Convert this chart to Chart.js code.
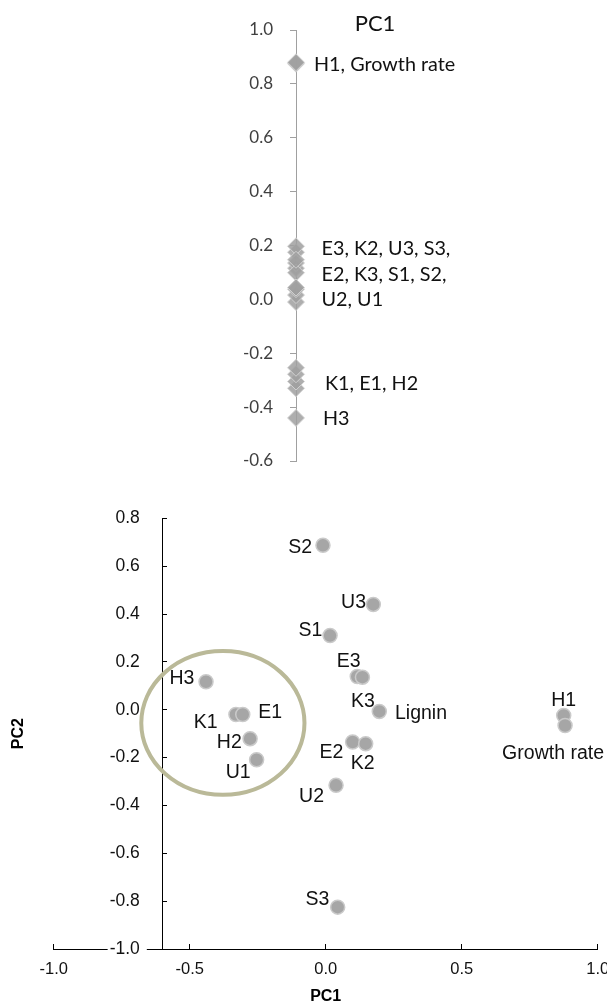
<!DOCTYPE html>
<html>
<head>
<meta charset="utf-8">
<script src="https://cdn.jsdelivr.net/npm/chart.js@4.4.1/dist/chart.umd.min.js"></script>
<style>
  html, body { margin: 0; padding: 0; background: #fff; }
  #wrap { position: relative; width: 607px; height: 1005px; overflow: hidden; }
  canvas { position: absolute; left: 0; }
  #pc1Strip { top: 0; width: 607px; height: 480px; }
  #scorePlot { top: 480px; width: 607px; height: 525px; }
</style>
</head>
<body>
<div id="wrap">
  <canvas id="pc1Strip" width="607" height="480"></canvas>
  <canvas id="scorePlot" width="607" height="525"></canvas>
</div>
<script>
// ---- data -------------------------------------------------------------
const itemNames = ['S2', 'U3', 'S1', 'E3', 'K3', 'Lignin', 'H3', 'K1', 'E1', 'H2', 'U1',
                   'E2', 'K2', 'U2', 'S3', 'H1', 'Growth rate'];
const pc1Scores = [-0.01, 0.175, 0.016, 0.116, 0.135, 0.197, -0.44, -0.33, -0.305, -0.278, -0.254,
                   0.099, 0.147, 0.038, 0.044, 0.875, 0.88];
const pc2Scores = [0.687, 0.44, 0.31, 0.139, 0.136, -0.007, 0.117, -0.02, -0.02, -0.121, -0.209,
                   -0.135, -0.142, -0.316, -0.825, -0.024, -0.066];

// grouped captions beside the PC1 strip
const stripGroups = [
  ['H1, Growth rate'],
  ['E3, K2, U3, S3,', 'E2, K3, S1, S2,', 'U2, U1'],
  ['K1, E1, H2'],
  ['H3']
];

const stripTicks = { min: -0.6, max: 1.0, step: 0.2 };
const plotXTicks = { min: -1.0, max: 1.0, step: 0.5 };
const plotYTicks = { min: -1.0, max: 0.8, step: 0.2 };
const plotYAxisAt = -0.6;

// highlighted cluster (centre and radius in score units)
const clusterCentre = { x: -0.378, y: -0.055 };
const clusterRadius = 0.3;

// ---- layout / style ---------------------------------------------------
const stripFont = 'Lato, "Open Sans", sans-serif';
const plotFont = '"Liberation Sans", Arial, sans-serif';

// anchor value and horizontal offset of each strip caption block
const stripGroupPlacement = [
  { at: 0.876, dx: 18 },
  { at: 0.096, dx: 25.5 },
  { at: -0.31, dx: 29 },
  { at: -0.441, dx: 27 }
];
const stripLineGap = 25.5;

// label alignment and offset (px) from each point of the score plot
const scoreLabelPlacement = {
  'S2': ['right', -11, 0.5],
  'U3': ['right', -7.3, -3.5],
  'S1': ['right', -7.7, -6.7],
  'E3': ['center', -8.6, -16.7],
  'K3': ['center', 0.4, 22.8],
  'Lignin': ['left', 15.7, 0.7],
  'H3': ['right', -11.7, -4.6],
  'K1': ['right', -18.3, 6.3],
  'E1': ['left', 15.6, -3.3],
  'H2': ['right', -8.3, 2.5],
  'U1': ['right', -6, 11.2],
  'E2': ['right', -9.4, 9.1],
  'K2': ['center', -3, 18.5],
  'U2': ['right', -12, 9.5],
  'S3': ['right', -8.4, -8.7],
  'H1': ['center', 0, -16],
  'Growth rate': ['center', -12, 26.7]
};

const fmt = v => (Math.abs(v) < 1e-9 ? '0.0' : Number(v).toFixed(1));
const noEdgePadding = s => { s.paddingTop = 0; s.paddingBottom = 0; s.paddingLeft = 0; s.paddingRight = 0; };

// ---- PC1 strip --------------------------------------------------------
const stripText = {
  id: 'stripText',
  afterDraw(chart) {
    const { ctx, chartArea, scales: { y } } = chart;
    ctx.save();
    ctx.fillStyle = '#111';
    ctx.textBaseline = 'alphabetic';
    ctx.font = `22px ${stripFont}`;
    ctx.textAlign = 'center';
    ctx.fillText('PC1', chartArea.left + 79, 23.3 + 0.36 * 22);
    const size = 19.8;
    ctx.font = `${size}px ${stripFont}`;
    ctx.textAlign = 'left';
    stripGroups.forEach((lines, i) => {
      const place = stripGroupPlacement[i];
      const cy = y.getPixelForValue(place.at);
      const first = cy - (lines.length - 1) * stripLineGap / 2;
      lines.forEach((t, k) => {
        ctx.fillText(t, chartArea.left + place.dx, first + k * stripLineGap + 0.36 * size);
      });
    });
    ctx.restore();
  }
};

new Chart(document.getElementById('pc1Strip'), {
  type: 'scatter',
  data: {
    datasets: [{
      data: pc1Scores.map(v => ({ x: 0, y: v })),
      pointStyle: 'rectRot',
      pointRadius: 8.5,
      pointHoverRadius: 8.5,
      backgroundColor: 'rgba(160,160,160,0.85)',
      borderColor: 'rgba(212,212,212,0.9)',
      borderWidth: 1,
      clip: false
    }]
  },
  options: {
    responsive: false,
    animation: false,
    devicePixelRatio: 1,
    events: [],
    layout: { padding: { left: 196, right: 53, top: 30, bottom: 19 } },
    plugins: { legend: { display: false }, tooltip: { enabled: false } },
    scales: {
      x: { type: 'linear', min: 0, max: 1, display: false },
      y: {
        type: 'linear',
        position: 'left',
        min: stripTicks.min,
        max: stripTicks.max,
        afterFit: s => { s.width = 100; noEdgePadding(s); },
        ticks: {
          stepSize: stripTicks.step,
          padding: 17,
          color: '#404040',
          font: { family: stripFont, size: 17 },
          callback: fmt
        },
        grid: { drawOnChartArea: false, drawTicks: true, tickLength: 6, color: '#a0a0a0' },
        border: { display: true, color: '#a0a0a0', width: 1 }
      }
    }
  },
  plugins: [stripText]
});

// ---- PC1 / PC2 score plot ---------------------------------------------
const tickSize = 17.5;
const scoreDecor = {
  id: 'scoreDecor',
  beforeDatasetsDraw(chart) {
    // value labels of the vertical axis, set off to the left of the axis line
    const { ctx, scales: { x, y } } = chart;
    const right = x.getPixelForValue(plotYAxisAt) - 22.7;
    ctx.save();
    ctx.font = `${tickSize}px ${plotFont}`;
    ctx.textAlign = 'right';
    ctx.textBaseline = 'middle';
    y.ticks.forEach(t => {
      const label = fmt(t.value);
      const py = y.getPixelForValue(t.value);
      const w = ctx.measureText(label).width;
      ctx.fillStyle = '#fff';
      ctx.fillRect(right - w - 2, py - tickSize * 0.5, w + 9, tickSize);
      ctx.fillStyle = '#111';
      ctx.fillText(label, right, py);
    });
    ctx.restore();
  },
  afterDatasetsDraw(chart) {
    const { ctx, scales: { x, y } } = chart;
    const cx = x.getPixelForValue(clusterCentre.x);
    const cy = y.getPixelForValue(clusterCentre.y);
    const rx = Math.abs(x.getPixelForValue(clusterCentre.x + clusterRadius) - cx);
    const ry = Math.abs(y.getPixelForValue(clusterCentre.y + clusterRadius) - cy);
    ctx.save();
    ctx.strokeStyle = 'rgb(186,185,152)';
    ctx.lineWidth = 4;
    ctx.beginPath();
    ctx.ellipse(cx, cy, rx, ry, 0, 0, Math.PI * 2);
    ctx.stroke();
    ctx.restore();
  },
  afterDraw(chart) {
    const { ctx, chartArea, scales: { x, y } } = chart;
    const size = 19.5;
    ctx.save();
    ctx.fillStyle = '#111';
    ctx.font = `${size}px ${plotFont}`;
    ctx.textBaseline = 'alphabetic';
    itemNames.forEach((name, i) => {
      const [align, dx, dy] = scoreLabelPlacement[name];
      const px = x.getPixelForValue(pc1Scores[i]);
      const py = y.getPixelForValue(pc2Scores[i]);
      ctx.textAlign = align;
      ctx.fillText(name, px + dx, py + dy + 0.358 * size);
    });
    // vertical axis title
    ctx.font = `bold 16px ${plotFont}`;
    ctx.fillStyle = '#000';
    ctx.textAlign = 'center';
    ctx.textBaseline = 'middle';
    ctx.translate(19, (chartArea.top + chartArea.bottom) / 2);
    ctx.rotate(-Math.PI / 2);
    ctx.fillText('PC2', 0, 0);
    ctx.restore();
  }
};

new Chart(document.getElementById('scorePlot'), {
  type: 'scatter',
  data: {
    datasets: [{
      data: itemNames.map((n, i) => ({ x: pc1Scores[i], y: pc2Scores[i] })),
      pointRadius: 7,
      pointHoverRadius: 7,
      backgroundColor: 'rgb(166,166,166)',
      borderColor: 'rgb(202,202,202)',
      borderWidth: 1.5,
      clip: false
    }]
  },
  options: {
    responsive: false,
    animation: false,
    devicePixelRatio: 1,
    events: [],
    layout: { padding: { left: 53.7, right: 9.3, top: 38.3, bottom: 0 } },
    plugins: { legend: { display: false }, tooltip: { enabled: false } },
    scales: {
      x: {
        type: 'linear',
        position: 'bottom',
        min: plotXTicks.min,
        max: plotXTicks.max,
        afterFit: s => { s.height = 56; noEdgePadding(s); },
        ticks: {
          stepSize: plotXTicks.step,
          padding: 15.5,
          color: '#111',
          font: { family: plotFont, size: 16.5 },
          callback: fmt
        },
        grid: { drawOnChartArea: false, drawTicks: true, tickLength: -5, color: '#000' },
        border: { display: true, color: '#000', width: 1 },
        title: {
          display: true,
          text: 'PC1',
          color: '#000',
          font: { family: plotFont, size: 16, weight: 'bold', lineHeight: 1 },
          padding: { top: 0, bottom: 0 }
        }
      },
      y: {
        type: 'linear',
        position: { x: plotYAxisAt },
        min: plotYTicks.min,
        max: plotYTicks.max,
        afterFit: noEdgePadding,
        ticks: { stepSize: plotYTicks.step, display: false, padding: 0 },
        grid: { drawOnChartArea: false, drawTicks: true, tickLength: -5, color: '#000' },
        border: { display: true, color: '#000', width: 1 }
      }
    }
  },
  plugins: [scoreDecor]
});
</script>
</body>
</html>
